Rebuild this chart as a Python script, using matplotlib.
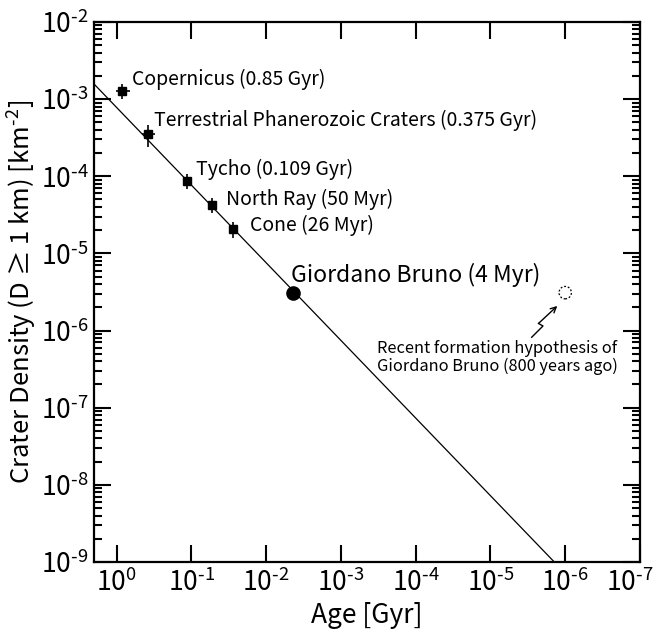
import numpy as np
import matplotlib
matplotlib.use("Agg")
import matplotlib.pyplot as plt
from matplotlib.ticker import FixedLocator, FuncFormatter
from matplotlib.transforms import ScaledTranslation

plt.rcParams['font.family'] = ['Noto Sans CJK JP', 'DejaVu Sans']
plt.rcParams['mathtext.fontset'] = 'custom'
plt.rcParams['mathtext.rm'] = 'DejaVu Sans'
plt.rcParams['mathtext.default'] = 'regular'

# crater data (age in Gyr, density per km^2)
names = ["Copernicus (0.85 Gyr)", "Terrestrial Phanerozoic Craters (0.375 Gyr)",
         "Tycho (0.109 Gyr)", "North Ray (50 Myr)", "Cone (26 Myr)"]
ages = [0.85, 0.38, 0.113, 0.053, 0.028]
density = [1.28e-3, 3.5e-4, 8.8e-5, 4.3e-5, 2.07e-5]
age_err = [0.18, 0.07, 0, 0, 0]
dens_err = [2.7e-4, 1.1e-4, 2.0e-5, 1.0e-5, 4.8e-6]
label_offsets = [(10, 11), (6, 14), (9, 11), (14, 5), (17, 4)]

gb_age = [4.3e-3]
gb_density = [3.04e-6]
recent_age = [1.0e-6]
recent_density = [3.1e-6]

# fitted line endpoints
line_age = [2.0, 1.4e-6]
line_density = [1.57e-3, 1e-9]

x_exps = list(range(0, 8))
y_exps = list(range(2, 10))


def sci_label(v, pos):
    k = int(round(-np.log10(v)))
    if k == 0:
        return "$10^{0}$"
    return "$10^{\\text{-}%d}$" % k


fig = plt.figure(figsize=(6.63, 6.33), dpi=100)
ax = fig.add_axes([0.1418, 0.1122, 0.8235, 0.8531])
ax.set_xscale('log')
ax.set_yscale('log')

ax.plot(line_age, line_density, color='black', lw=0.9, zorder=2)

ax.errorbar(ages, density, xerr=age_err, yerr=dens_err, fmt='s', color='black',
            ms=5.5, elinewidth=1.2, capsize=0, zorder=3)
for n, a, d, off in zip(names, ages, density, label_offsets):
    ax.annotate(n, (a, d), xytext=off, textcoords='offset pixels',
                fontsize=14, ha='left', va='center')

ax.plot(gb_age, gb_density, 'o', color='black', ms=9.5, zorder=3)
ax.annotate("Giordano Bruno (4 Myr)", (gb_age[0], gb_density[0]), xytext=(-2, 18),
            textcoords='offset pixels', fontsize=16.5, ha='left', va='center')

ax.scatter(recent_age, recent_density, s=80, facecolors='none', edgecolors='black',
           linestyles=(0, (1.5, 1.5)), linewidths=0.9, zorder=3)

# lightning arrow to the recent formation point
ax.plot([0.8016, 0.8223, 0.8141], [0.4161, 0.4370, 0.4417], color='black', lw=1,
        transform=ax.transAxes)
ax.annotate("", xy=(0.8485, 0.4741), xytext=(0.8141, 0.4417), xycoords='axes fraction',
            arrowprops=dict(arrowstyle='->', color='black', lw=1, shrinkA=0, shrinkB=0))
ax.text(0.739, 0.379, "Recent formation hypothesis of\nGiordano Bruno (800 years ago)",
        transform=ax.transAxes, ha='center', va='center', fontsize=11.8, linespacing=1.05)

ax.set_xlim(2.0, 1e-7)
ax.set_ylim(1e-9, 1e-2)
ax.xaxis.set_major_locator(FixedLocator([10.0 ** -k for k in x_exps]))
ax.yaxis.set_major_locator(FixedLocator([10.0 ** -k for k in y_exps]))
ax.xaxis.set_major_formatter(FuncFormatter(sci_label))
ax.yaxis.set_major_formatter(FuncFormatter(sci_label))

ax.tick_params(which='both', direction='in', top=True, right=True, width=1.5)
ax.tick_params(which='major', length=12, labelsize=19)
ax.tick_params(axis='y', which='major', pad=4)
ax.tick_params(axis='x', which='major', pad=5)
ax.tick_params(which='minor', length=6)
for s in ax.spines.values():
    s.set_linewidth(1.6)

ax.set_xlabel("Age [Gyr]", fontsize=19, labelpad=3)
ax.set_ylabel("Crater Density (D \u2265 1 km) [km$^{\\text{-}2}$]", fontsize=18.5, labelpad=1)

# keep the last x label inside the figure
fig.canvas.draw()
last = ax.get_xticklabels()[-1]
last.set_transform(last.get_transform() + ScaledTranslation(-0.1, 0, fig.dpi_scale_trans))

fig.savefig("out.png", dpi=100)
